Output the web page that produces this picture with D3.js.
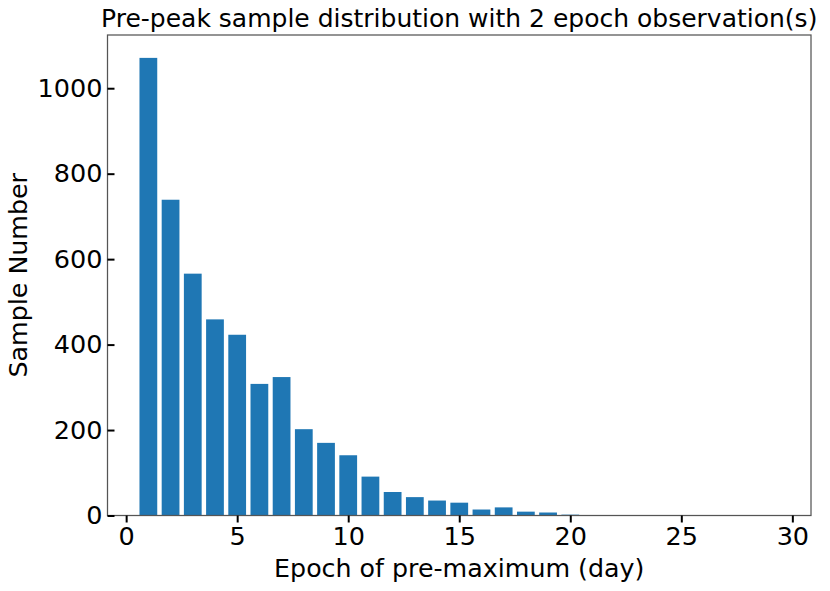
<!DOCTYPE html>
<html>
<head>
<meta charset="utf-8">
<script src="https://cdn.jsdelivr.net/npm/d3@7"></script>
<style>
  html, body { margin: 0; padding: 0; background: #fff; }
  svg { display: block; font-family: "DejaVu Sans", sans-serif; }
</style>
</head>
<body>
<svg id="chart" width="830" height="591"></svg>
<script>
// ---- data ----
const epochs = [1,2,3,4,5,6,7,8,9,10,11,12,13,14,15,16,17,18,19,20,21,22,23,24,25,26,27,28,29];
const counts = [1071,739,566,459,423,308,324,202,170,141,91,55,43,35,30,14,19,9,7,2,1,1,0,0,1,0,0,0,0];
const xTicks = [0,5,10,15,20,25,30];
const yTicks = [0,200,400,600,800,1000];
const titleText = "Pre-peak sample distribution with 2 epoch observation(s)";
const xLabel = "Epoch of pre-maximum (day)";
const yLabel = "Sample Number";

// ---- layout ----
const L = 107.5, R = 811, T = 35, B = 515.5;
const barW = 0.8;
const svg = d3.select("#chart");

const xMin = d3.min(epochs) - barW / 2, xMax = d3.max(epochs) + barW / 2;
const xPad = (xMax - xMin) * 0.05;
const x = d3.scaleLinear().domain([xMin - xPad, xMax + xPad]).range([L, R]);
const yMax = d3.max(counts) * 1.05;
const y = d3.scaleLinear().domain([0, yMax]).range([B, T]);

// bars
svg.append("g").selectAll("rect")
  .data(epochs.map((e, i) => ({e, c: counts[i]})))
  .join("rect")
  .attr("x", d => x(d.e - barW / 2))
  .attr("width", d => x(d.e + barW / 2) - x(d.e - barW / 2))
  .attr("y", d => y(d.c))
  .attr("height", d => B - y(d.c))
  .attr("fill", "#1f77b4");

// frame
svg.append("rect")
  .attr("x", L).attr("y", T).attr("width", R - L).attr("height", B - T)
  .attr("fill", "none").attr("stroke", "#555").attr("stroke-width", 1.25);

// x axis (outward ticks)
const gx = svg.append("g").attr("transform", `translate(0,${B})`)
  .call(d3.axisBottom(x).tickValues(xTicks).tickFormat(d3.format("d")).tickSize(7).tickPadding(4));
gx.select(".domain").remove();
gx.selectAll(".tick line").attr("stroke", "#000").attr("stroke-width", 2);
gx.selectAll(".tick text").attr("font-size", 25.5).attr("fill", "#000")
  .attr("font-family", "DejaVu Sans");

// y axis (inward ticks)
const gy = svg.append("g").attr("transform", `translate(${L},0)`)
  .call(d3.axisLeft(y).tickValues(yTicks).tickFormat(d3.format("d")).tickSize(-7).tickPadding(5));
gy.select(".domain").remove();
gy.selectAll(".tick line").attr("stroke", "#000").attr("stroke-width", 2);
gy.selectAll(".tick text").attr("font-size", 25.5).attr("fill", "#000")
  .attr("font-family", "DejaVu Sans");

// title
svg.append("text")
  .attr("x", (L + R) / 2).attr("y", 27)
  .attr("text-anchor", "middle").attr("font-size", 25).attr("fill", "#000")
  .text(titleText);

// x label
svg.append("text")
  .attr("x", (L + R) / 2).attr("y", 577)
  .attr("text-anchor", "middle").attr("font-size", 25.3).attr("fill", "#000")
  .text(xLabel);

// y label
svg.append("text")
  .attr("transform", `translate(27,${(T + B) / 2}) rotate(-90)`)
  .attr("text-anchor", "middle").attr("font-size", 25.3).attr("fill", "#000")
  .text(yLabel);
</script>
</body>
</html>
